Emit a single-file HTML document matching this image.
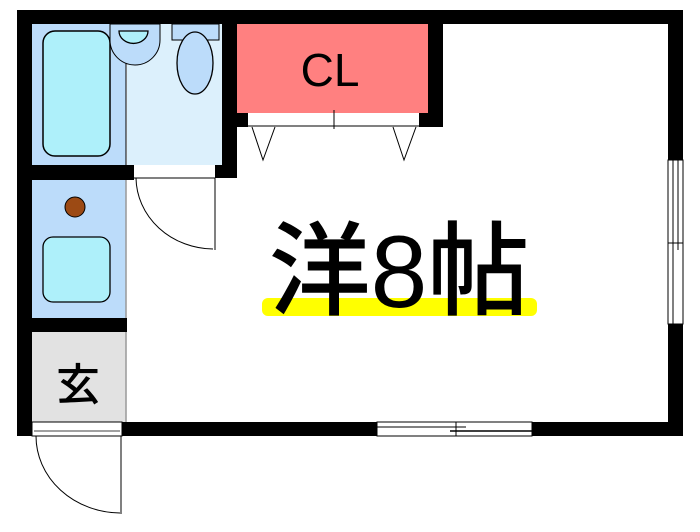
<!DOCTYPE html>
<html><head><meta charset="utf-8"><style>
html,body{margin:0;padding:0;background:#fff;width:700px;height:532px;overflow:hidden}
svg{display:block}
</style></head><body>
<svg width="700" height="532" viewBox="0 0 700 532" xmlns="http://www.w3.org/2000/svg">
<rect width="700" height="532" fill="#fff"/>
<rect x="32" y="24" width="94" height="141" fill="#bcdcfa"/>
<rect x="43" y="31" width="67" height="125" rx="12" fill="#aef0fa" stroke="#000" stroke-width="1.5"/>
<line x1="126" y1="24" x2="126" y2="165" stroke="#000" stroke-width="1"/>
<rect x="127" y="24" width="95" height="141" fill="#dcf0fc"/>
<path d="M110 24 L110 40 A20 20 0 0 0 160 40 L160 24 Z" fill="#bcdcfa" stroke="#000" stroke-width="1"/>
<path d="M119 31 L148 31 A14 12 0 0 1 119 31 Z" fill="#aef0fa" stroke="#000" stroke-width="1.3"/>
<rect x="172" y="24" width="47" height="16" fill="#bcdcfa" stroke="#000" stroke-width="1"/>
<ellipse cx="195" cy="63" rx="18" ry="31" fill="#bcdcfa" stroke="#000" stroke-width="1.3"/>
<rect x="32" y="180" width="94" height="138" fill="#bcdcfa"/>
<circle cx="75" cy="207" r="10" fill="#9c4a14" stroke="#000" stroke-width="1"/>
<rect x="43" y="237" width="67" height="65" rx="10" fill="#aef0fa" stroke="#000" stroke-width="1.3"/>
<rect x="32" y="332" width="94" height="90" fill="#e2e2e2"/>
<line x1="126" y1="180" x2="126" y2="422" stroke="#999" stroke-width="1.5"/>
<text x="78" y="400" font-family="'Noto Sans CJK JP',sans-serif" font-size="44" font-weight="500" text-anchor="middle" fill="#000">玄</text>
<rect x="237" y="24" width="191" height="89" fill="#ff8080"/>
<text x="330" y="86" font-family="'Liberation Sans',sans-serif" font-size="46" text-anchor="middle" fill="#000">CL</text>
<g fill="#000">
<rect x="17" y="10" width="666" height="14"/>
<rect x="17" y="10" width="15" height="426"/>
<rect x="668" y="10" width="15" height="150"/>
<rect x="668" y="324" width="15" height="112"/>
<rect x="122" y="422" width="255" height="14"/>
<rect x="532" y="422" width="151" height="14"/>
<rect x="222" y="10" width="15" height="168"/>
<rect x="17" y="165" width="117" height="15"/>
<rect x="215" y="165" width="22" height="13"/>
<rect x="17" y="318" width="110" height="14"/>
<rect x="237" y="113" width="11" height="14"/>
<rect x="419" y="113" width="24" height="14"/>
<rect x="428" y="10" width="15" height="117"/>
</g>
<line x1="248" y1="126" x2="419" y2="126" stroke="#000" stroke-width="1"/>
<line x1="334" y1="110" x2="334" y2="129" stroke="#000" stroke-width="1"/>
<path d="M252 127 L263 160 L275 127" fill="none" stroke="#000" stroke-width="1"/>
<path d="M393 127 L404 160 L416 127" fill="none" stroke="#000" stroke-width="1"/>
<line x1="134" y1="178" x2="215" y2="178" stroke="#000" stroke-width="1"/>
<line x1="215" y1="178" x2="215" y2="250" stroke="#000" stroke-width="1"/>
<path d="M136 178 A78 72 0 0 0 213 249" fill="none" stroke="#000" stroke-width="1"/>
<rect x="32" y="422" width="90" height="14" fill="#fff" stroke="#000" stroke-width="1"/>
<line x1="34" y1="431" x2="120" y2="431" stroke="#000" stroke-width="0.8"/>
<line x1="121" y1="436" x2="121" y2="514" stroke="#000" stroke-width="1"/>
<path d="M36 436 A85 77 0 0 0 120 513" fill="none" stroke="#000" stroke-width="1"/>
<rect x="377" y="422" width="155" height="14" fill="#fff" stroke="#000" stroke-width="1"/>
<line x1="377" y1="427" x2="466" y2="427" stroke="#000" stroke-width="1"/>
<line x1="450" y1="431" x2="532" y2="431" stroke="#000" stroke-width="1.5"/>
<line x1="456" y1="422" x2="456" y2="436" stroke="#000" stroke-width="1"/>
<rect x="668" y="160" width="15" height="164" fill="#fff" stroke="#000" stroke-width="1"/>
<line x1="673" y1="160" x2="673" y2="324" stroke="#000" stroke-width="1"/>
<line x1="678" y1="160" x2="678" y2="250" stroke="#000" stroke-width="1"/>
<line x1="668" y1="243" x2="683" y2="243" stroke="#000" stroke-width="1"/>
<rect x="262" y="298" width="275" height="18" rx="6" fill="#ffff00"/>
<text x="399" y="307" font-family="'Liberation Sans','Noto Sans CJK JP',sans-serif" font-size="102" font-weight="500" text-anchor="middle" fill="#000">洋8帖</text>
</svg>
</body></html>
